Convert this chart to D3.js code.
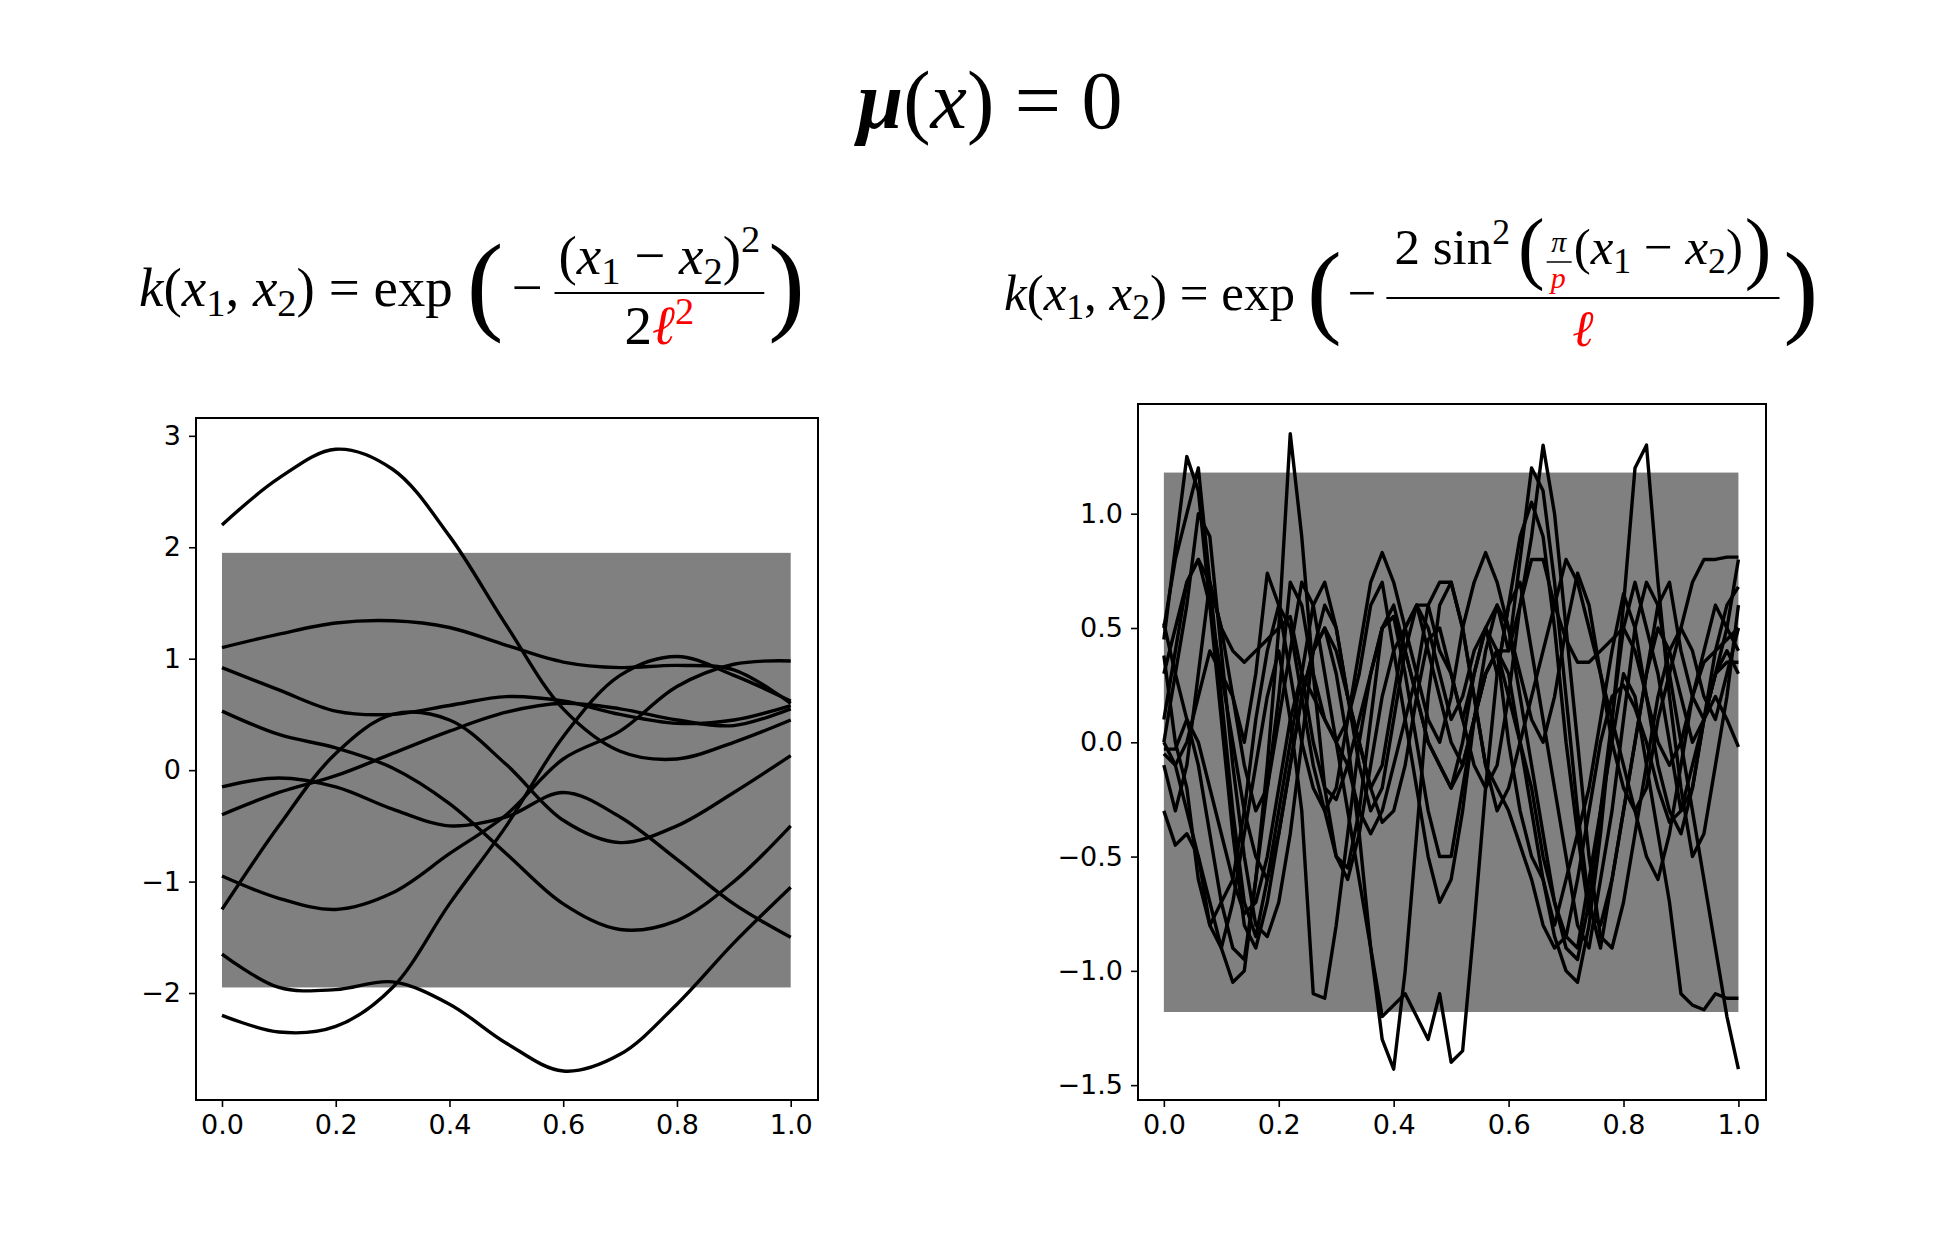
<!DOCTYPE html>
<html>
<head>
<meta charset="utf-8">
<script src="https://cdn.jsdelivr.net/npm/d3@7"></script>
<style>
  body { margin: 0; background: #fff; }
  text { fill: #000; }
</style>
</head>
<body>
<script>
// --- données ---
// panneau gauche : noyau RBF, 10 tirages échantillonnés à x = 0, 0.1, ..., 1
const rbfSeries = [
  [2.2, 2.62, 2.88, 2.7, 2.1, 1.3, 0.55, 0.17, 0.1, 0.25, 0.45],
  [1.1, 1.22, 1.32, 1.34, 1.28, 1.12, 0.97, 0.92, 0.94, 0.9, 0.6],
  [0.92, 0.72, 0.53, 0.5, 0.58, 0.66, 0.62, 0.5, 0.42, 0.45, 0.58],
  [0.53, 0.32, 0.2, 0.02, -0.3, -0.75, -1.2, -1.43, -1.35, -1.0, -0.5],
  [-0.15, -0.07, -0.15, -0.35, -0.5, -0.42, -0.2, -0.42, -0.8, -1.2, -1.5],
  [-0.4, -0.2, -0.05, 0.15, 0.35, 0.52, 0.6, 0.55, 0.45, 0.4, 0.55],
  [-0.95, -1.15, -1.25, -1.1, -0.75, -0.4, 0.1, 0.35, 0.75, 0.95, 0.98],
  [-1.25, -0.5, 0.15, 0.5, 0.45, 0.05, -0.45, -0.65, -0.5, -0.2, 0.13],
  [-1.65, -1.95, -1.97, -1.9, -2.1, -2.45, -2.7, -2.55, -2.1, -1.55, -1.05],
  [-2.2, -2.35, -2.3, -1.95, -1.2, -0.5, 0.3, 0.85, 1.02, 0.85, 0.62]
];
const rbfBand = [-1.95, 1.95];
const rbfYTicks = [-2, -1, 0, 1, 2, 3];

// panneau droit : noyau périodique, 12 tirages échantillonnés tous les 0.02
const perSeries = [
  [0.45,0.85,1.25,1.1,0.6,0.1,-0.4,-0.8,-0.9,-0.7,-0.4,-0.1,0.2,0.4,0.5,0.4,0.2,0.0,-0.2,-0.35,-0.3,-0.1,0.2,0.45,0.5,0.3,0.1,-0.1,-0.2,-0.1,0.2,0.6,0.9,1.3,1.0,0.5,0.0,-0.5,-0.85,-0.9,-0.7,-0.4,-0.1,0.2,0.4,0.5,0.4,0.2,0.1,0.3,0.5],
  [0.0,-0.1,-0.3,-0.5,-0.7,-0.9,-1.05,-1.0,-0.6,-0.1,0.5,1.35,0.9,0.3,-0.2,-0.5,-0.6,-0.4,-0.1,0.2,0.4,0.5,0.6,0.4,0.2,0.0,-0.1,0.1,0.3,0.4,0.3,0.0,-0.3,-0.6,-0.85,-1.0,-1.05,-0.8,-0.4,0.1,0.6,1.2,1.3,0.7,0.2,-0.2,-0.5,-0.4,-0.1,0.2,0.6],
  [0.3,0.5,0.7,0.8,0.6,0.3,0.0,-0.3,-0.5,-0.6,-0.4,-0.1,0.2,0.4,0.5,0.3,0.0,-0.4,-0.9,-1.3,-1.43,-1.0,-0.4,0.2,0.6,0.7,0.5,0.2,-0.1,-0.3,-0.2,0.0,0.2,0.4,0.6,0.8,0.7,0.5,0.3,0.1,-0.1,-0.3,-0.5,-0.6,-0.4,-0.1,0.2,0.4,0.6,0.5,0.4],
  [-0.1,-0.3,-0.1,0.3,0.7,0.5,0.2,-0.1,-0.3,-0.2,0.1,0.4,0.7,0.6,0.3,0.0,-0.3,-0.6,-0.9,-1.2,-1.15,-1.1,-1.2,-1.3,-1.1,-1.4,-1.35,-0.8,-0.2,0.3,0.6,0.7,0.4,0.1,-0.2,-0.5,-0.8,-0.9,-0.6,-0.3,0.1,0.5,0.7,0.6,0.3,0.0,-0.3,-0.6,-0.9,-1.2,-1.43],
  [0.5,0.8,1.0,1.2,0.7,0.2,-0.3,-0.7,-0.85,-0.6,-0.3,0.0,0.3,0.6,0.7,0.5,0.2,0.0,-0.2,-0.1,0.2,0.5,0.6,0.6,0.4,0.3,0.1,0.3,0.5,0.6,0.4,0.8,1.2,1.1,0.7,0.2,-0.3,-0.7,-0.9,-0.6,-0.3,0.0,0.3,0.6,0.7,0.4,0.2,0.1,0.3,0.5,0.8],
  [-0.05,-0.1,0.0,0.2,0.4,0.3,0.2,0.0,0.3,0.74,0.6,0.3,0.0,-0.2,-0.3,-0.2,0.1,0.4,0.7,0.83,0.7,0.5,0.3,0.1,0.0,0.2,0.5,0.7,0.83,0.7,0.5,0.3,0.1,0.0,0.2,0.5,0.74,0.6,0.3,0.0,-0.2,-0.3,-0.2,0.1,0.3,0.5,0.7,0.8,0.8,0.81,0.81],
  [-0.3,-0.45,-0.4,-0.5,-0.8,-0.9,-0.7,-0.4,-0.1,0.2,0.4,0.1,-0.3,-1.1,-1.12,-0.8,-0.4,0.0,0.3,0.5,0.55,0.3,0.0,-0.3,-0.5,-0.5,-0.2,0.1,0.3,0.4,0.2,0.0,-0.2,-0.5,-0.7,-0.85,-0.9,-0.6,-0.3,0.0,0.3,0.2,-0.1,-0.4,-0.7,-1.1,-1.15,-1.17,-1.1,-1.12,-1.12],
  [0.38,0.0,-0.2,-0.6,-0.8,-0.7,-0.6,-0.3,0.1,0.4,0.6,0.5,0.2,-0.1,-0.3,-0.5,-0.55,-0.3,0.1,0.5,0.6,0.4,0.2,0.0,-0.1,-0.2,0.0,0.3,0.5,0.4,0.0,-0.3,-0.5,-0.6,-0.8,-0.6,-0.4,-0.2,0.1,0.4,0.65,0.5,0.2,-0.1,-0.3,-0.4,-0.2,0.1,0.3,0.35,0.35],
  [0.1,0.4,0.7,0.8,0.7,0.5,0.4,0.35,0.4,0.45,0.5,0.55,0.3,0.0,-0.2,-0.25,-0.1,0.1,0.3,0.5,0.55,0.4,0.2,0.0,-0.1,-0.2,-0.1,0.1,0.3,0.4,0.4,0.6,0.8,0.8,0.6,0.45,0.35,0.35,0.4,0.45,0.5,0.4,0.2,0.0,-0.1,0.0,0.2,0.35,0.4,0.45,0.5],
  [-0.03,-0.03,0.1,0.0,-0.2,-0.4,-0.6,-0.75,-0.7,-0.5,-0.2,0.1,0.3,0.2,0.1,0.0,-0.1,-0.3,-0.4,-0.3,-0.1,0.1,0.3,0.6,0.7,0.7,0.5,0.2,-0.1,-0.2,-0.3,-0.45,-0.6,-0.8,-0.9,-0.85,-0.6,-0.3,0.0,0.2,0.25,0.15,0.0,-0.2,-0.35,-0.3,-0.1,0.1,0.2,0.1,-0.02],
  [0.52,0.3,0.1,-0.1,-0.4,-0.7,-0.9,-0.95,-0.6,-0.2,0.2,0.7,0.6,0.3,0.1,0.0,0.1,0.3,0.6,0.7,0.4,0.1,-0.2,-0.5,-0.7,-0.6,-0.3,0.1,0.4,0.6,0.5,0.2,-0.1,-0.4,-0.7,-0.9,-0.95,-0.7,-0.3,0.1,0.5,0.7,0.5,0.3,0.0,-0.3,-0.2,0.1,0.4,0.6,0.68],
  [0.0,0.3,0.6,1.0,0.9,0.4,-0.1,-0.5,-0.8,-0.85,-0.7,-0.4,0.0,0.4,0.6,0.5,0.2,-0.1,-0.3,-0.2,0.1,0.4,0.6,0.5,0.3,0.1,0.2,0.4,0.5,0.3,0.6,0.9,1.05,0.9,0.5,0.0,-0.4,-0.75,-0.8,-0.6,-0.3,0.0,0.3,0.5,0.4,0.2,0.0,0.1,0.3,0.4,0.3]
];
const perBand = [-1.18, 1.18];
const perYTicks = [-1.5, -1.0, -0.5, 0.0, 0.5, 1.0];
const xTicks = [0, 0.2, 0.4, 0.6, 0.8, 1.0];

const W = 1934, H = 1255;
const svg = d3.select("body").append("svg").attr("width", W).attr("height", H);

const serif = "'Liberation Serif', 'DejaVu Serif', serif";

// écrit un morceau de formule : liste {t, i (italique), c (couleur), s (échelle), v (décalage vertical)}
function morceau(x, y, parts, size) {
  let txt = svg.append("text").attr("x", x).attr("y", y)
    .attr("font-family", serif).attr("font-size", size);
  let cur = 0;
  parts.forEach(p => {
    let v = (p.v || 0) * size / 55;
    txt.append("tspan").text(p.t)
      .attr("dy", v - cur)
      .attr("font-style", p.i ? "italic" : "normal")
      .attr("font-weight", p.b ? "bold" : "normal")
      .attr("font-size", size * (p.s || 1))
      .style("fill", p.c || "#000");
    cur = v;
  });
  return txt;
}
function largeur(txt) { return txt.node().getBBox().width; }

// dispose une ligne d'éléments : {parts, size, dy, gap} ou {frac:{num, den, ny, dy, ly}, size, gap}
function ligne(x, y, items) {
  let cx = x;
  items.forEach(it => {
    cx += it.gap || 0;
    if (it.frac) {
      let n = morceau(0, y + it.frac.ny, it.frac.num, it.size);
      let d = morceau(0, y + it.frac.dy, it.frac.den, it.size);
      let w = Math.max(largeur(n), largeur(d), it.minW || 0) + 8;
      n.attr("x", cx + (w - largeur(n)) / 2);
      d.attr("x", cx + (w - largeur(d)) / 2);
      svg.append("line").attr("x1", cx).attr("x2", cx + w)
        .attr("y1", y + it.frac.ly).attr("y2", y + it.frac.ly)
        .attr("stroke", "#000").attr("stroke-width", it.lw || 2);
      cx += w;
    } else {
      let t = morceau(cx, y + (it.dy || 0), it.parts, it.size);
      cx += largeur(t);
    }
  });
  return cx - x;
}

// titre centré
let titre = morceau(0, 128, [{ t: "μ", i: true, b: true }, { t: "(" }, { t: "x", i: true }, { t: ") = 0" }], 82);
titre.attr("x", 992 - largeur(titre) / 2);

const sub = (t) => ({ t: t, s: 0.7, v: 10 });
const kx = [{ t: "k", i: true }, { t: "(" }, { t: "x", i: true }, sub("1"), { t: ", " }, { t: "x", i: true }, sub("2"), { t: ") = exp" }];
const diff = [{ t: "(" }, { t: "x", i: true }, sub("1"), { t: " − " }, { t: "x", i: true }, sub("2"), { t: ")" }];

// formule gauche (noyau RBF)
const F = 55;
ligne(139, 306, [
  { parts: kx, size: F },
  { parts: [{ t: "(" }], size: 110, dy: 14, gap: 14 },
  { parts: [{ t: "−" }], size: F, gap: 8 },
  { frac: { num: diff.concat([{ t: "2", s: 0.7, v: -22 }]), den: [{ t: "2" }, { t: "ℓ", i: true, c: "red" }, { t: "2", s: 0.7, v: -20, c: "red" }], ny: -32, dy: 38, ly: -13 }, size: F, gap: 12 },
  { parts: [{ t: ")" }], size: 110, dy: 14, gap: 4 }
]);

// formule droite (noyau périodique) : le numérateur est mesuré hors champ d'abord
const FR = 51;
function numerateur(x0) {
  return ligne(x0, 264, [
    { parts: [{ t: "2 sin" }, { t: "2", s: 0.7, v: -22 }], size: FR },
    { parts: [{ t: "(" }], size: 80, dy: 10, gap: 8 },
    { frac: { num: [{ t: "π", i: true }], den: [{ t: "p", i: true, c: "red" }], ny: -12, dy: 24, ly: -2 }, size: 30, gap: 2, lw: 1.5 },
    { parts: diff, size: FR, gap: 2 },
    { parts: [{ t: ")" }], size: 80, dy: 10, gap: 2 }
  ]);
}
let wNum = numerateur(-3000);
svg.selectAll("text, line").filter(function () { return this.getBBox().x < -1000; }).remove();

ligne(1004, 310, [
  { parts: kx, size: FR },
  { parts: [{ t: "(" }], size: 104, dy: 14, gap: 12 },
  { parts: [{ t: "−" }], size: FR, gap: 6 },
  { frac: { num: [], den: [{ t: "ℓ", i: true, c: "red" }], ny: -48, dy: 36, ly: -12 }, size: FR, gap: 10, minW: wNum + 8 },
  { parts: [{ t: ")" }], size: 104, dy: 14, gap: 4 }
]);
// place le numérateur au centre de la barre
let barre = svg.selectAll("line").filter(function () { return +this.getAttribute("x1") > 1300; });
let bx1 = +barre.attr("x1"), bx2 = +barre.attr("x2");
numerateur((bx1 + bx2) / 2 - wNum / 2);

// panneau générique
function panneau(box, xDom, yDom, series, band, yTicks, yFmt) {
  let x = d3.scaleLinear().domain(xDom).range([box.x0, box.x1]);
  let y = d3.scaleLinear().domain(yDom).range([box.y1, box.y0]);
  let g = svg.append("g");

  g.append("rect")
    .attr("x", x(0)).attr("width", x(1) - x(0))
    .attr("y", y(band[1])).attr("height", y(band[0]) - y(band[1]))
    .attr("fill", "#808080");

  let line = d3.line()
    .x((d, i, arr) => x(i / (arr.length - 1)))
    .y(d => y(d));
  if (series[0].length < 20) line.curve(d3.curveCatmullRom.alpha(0.5));

  g.append("defs").append("clipPath").attr("id", "clip" + box.x0)
    .append("rect").attr("x", box.x0).attr("y", box.y0)
    .attr("width", box.x1 - box.x0).attr("height", box.y1 - box.y0);

  g.append("g").attr("clip-path", "url(#clip" + box.x0 + ")")
    .selectAll("path").data(series).enter().append("path")
    .attr("d", d => line(d))
    .attr("fill", "none").attr("stroke", "#000")
    .attr("stroke-width", 3.4).attr("stroke-linejoin", "round");

  g.append("rect").attr("x", box.x0).attr("y", box.y0)
    .attr("width", box.x1 - box.x0).attr("height", box.y1 - box.y0)
    .attr("fill", "none").attr("stroke", "#000").attr("stroke-width", 2);

  let ax = g.append("g").attr("transform", "translate(0," + box.y1 + ")")
    .call(d3.axisBottom(x).tickValues(xTicks).tickFormat(d3.format(".1f")).tickSizeOuter(0).tickSize(7).tickPadding(8));
  let ay = g.append("g").attr("transform", "translate(" + box.x0 + ",0)")
    .call(d3.axisLeft(y).tickValues(yTicks).tickFormat(yFmt).tickSizeOuter(0).tickSize(7).tickPadding(8));
  [ax, ay].forEach(a => {
    a.select(".domain").remove();
    a.selectAll("line").attr("stroke-width", 1.6);
    a.selectAll("text").attr("font-family", "'DejaVu Sans', sans-serif").attr("font-size", 27);
  });
}

const minus = s => s.replace("-", "−");
panneau({ x0: 196, x1: 818, y0: 418, y1: 1100 }, [-0.0457, 1.048], [-2.96, 3.16],
  rbfSeries, rbfBand, rbfYTicks, d => minus(d3.format("d")(d)));
panneau({ x0: 1138, x1: 1766, y0: 404, y1: 1100 }, [-0.045, 1.048], [-1.565, 1.48],
  perSeries, perBand, perYTicks, d => minus(d3.format(".1f")(d)));
</script>
</body>
</html>
